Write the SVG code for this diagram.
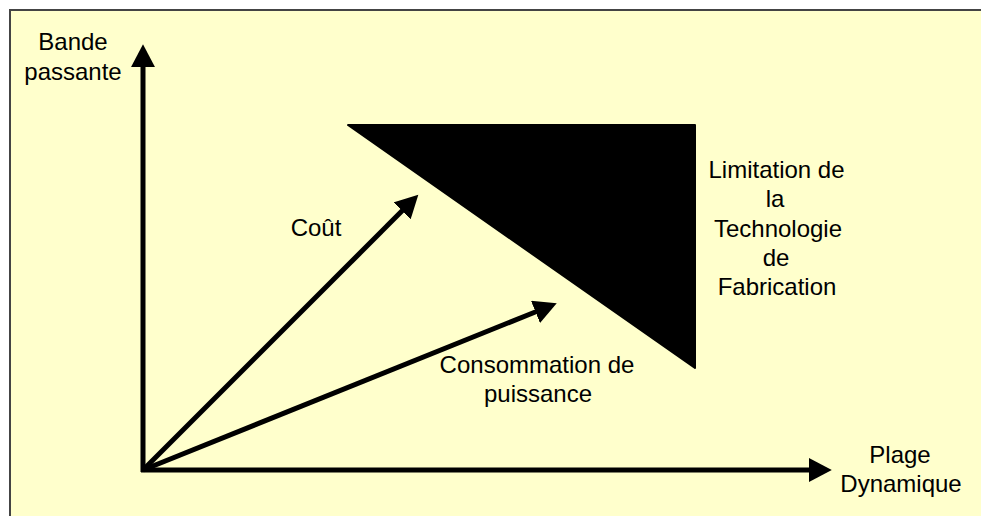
<svg xmlns="http://www.w3.org/2000/svg" width="981" height="516" viewBox="0 0 981 516">
  <defs>
    <style>
      .lbl { font-family: "Liberation Sans", Arial, sans-serif; font-size: 24px; fill: #000; text-anchor: middle; }
      .ln { stroke: #000; stroke-width: 5; fill: none; }
    </style>
    <marker id="ah" markerUnits="userSpaceOnUse" markerWidth="24" markerHeight="24" viewBox="0 0 22 22" refX="1" refY="11" orient="auto">
      <path d="M0,0 L21,11 L0,22 z" fill="#000"/>
    </marker>
  </defs>
  <rect x="0" y="0" width="981" height="516" fill="#ffffff"/>
  <rect x="10" y="10" width="980" height="520" fill="#FFFFCC" stroke="#444" stroke-width="2"/>

  <g id="triangle">
    <polygon points="348,125 695,125 695,368" fill="#000" stroke="#000" stroke-width="2" stroke-linejoin="round"/>
  </g>

  <g id="connectors">
    <line class="ln" x1="143" y1="472" x2="143" y2="66" marker-end="url(#ah)"/>
    <line class="ln" x1="141" y1="470" x2="810" y2="470" marker-end="url(#ah)"/>
    <line class="ln" x1="143" y1="470" x2="402.9" y2="210.1" marker-end="url(#ah)"/>
    <line class="ln" x1="143" y1="470" x2="536.5" y2="311.5" marker-end="url(#ah)"/>
  </g>

  <g id="label-bande">
    <text class="lbl" x="73" y="50">Bande</text>
    <text class="lbl" x="73" y="80">passante</text>
  </g>
  <g id="label-plage">
    <text class="lbl" x="900" y="463">Plage</text>
    <text class="lbl" x="901" y="492">Dynamique</text>
  </g>
  <g id="label-cout">
    <text class="lbl" x="316" y="236">Coût</text>
  </g>
  <g id="label-conso">
    <text class="lbl" x="537" y="373">Consommation de</text>
    <text class="lbl" x="538" y="402">puissance</text>
  </g>
  <g id="label-limitation">
    <text class="lbl" x="776.5" y="178">Limitation de</text>
    <text class="lbl" x="775" y="207">la</text>
    <text class="lbl" x="778" y="237">Technologie</text>
    <text class="lbl" x="776" y="266">de</text>
    <text class="lbl" x="777" y="295">Fabrication</text>
  </g>
</svg>
